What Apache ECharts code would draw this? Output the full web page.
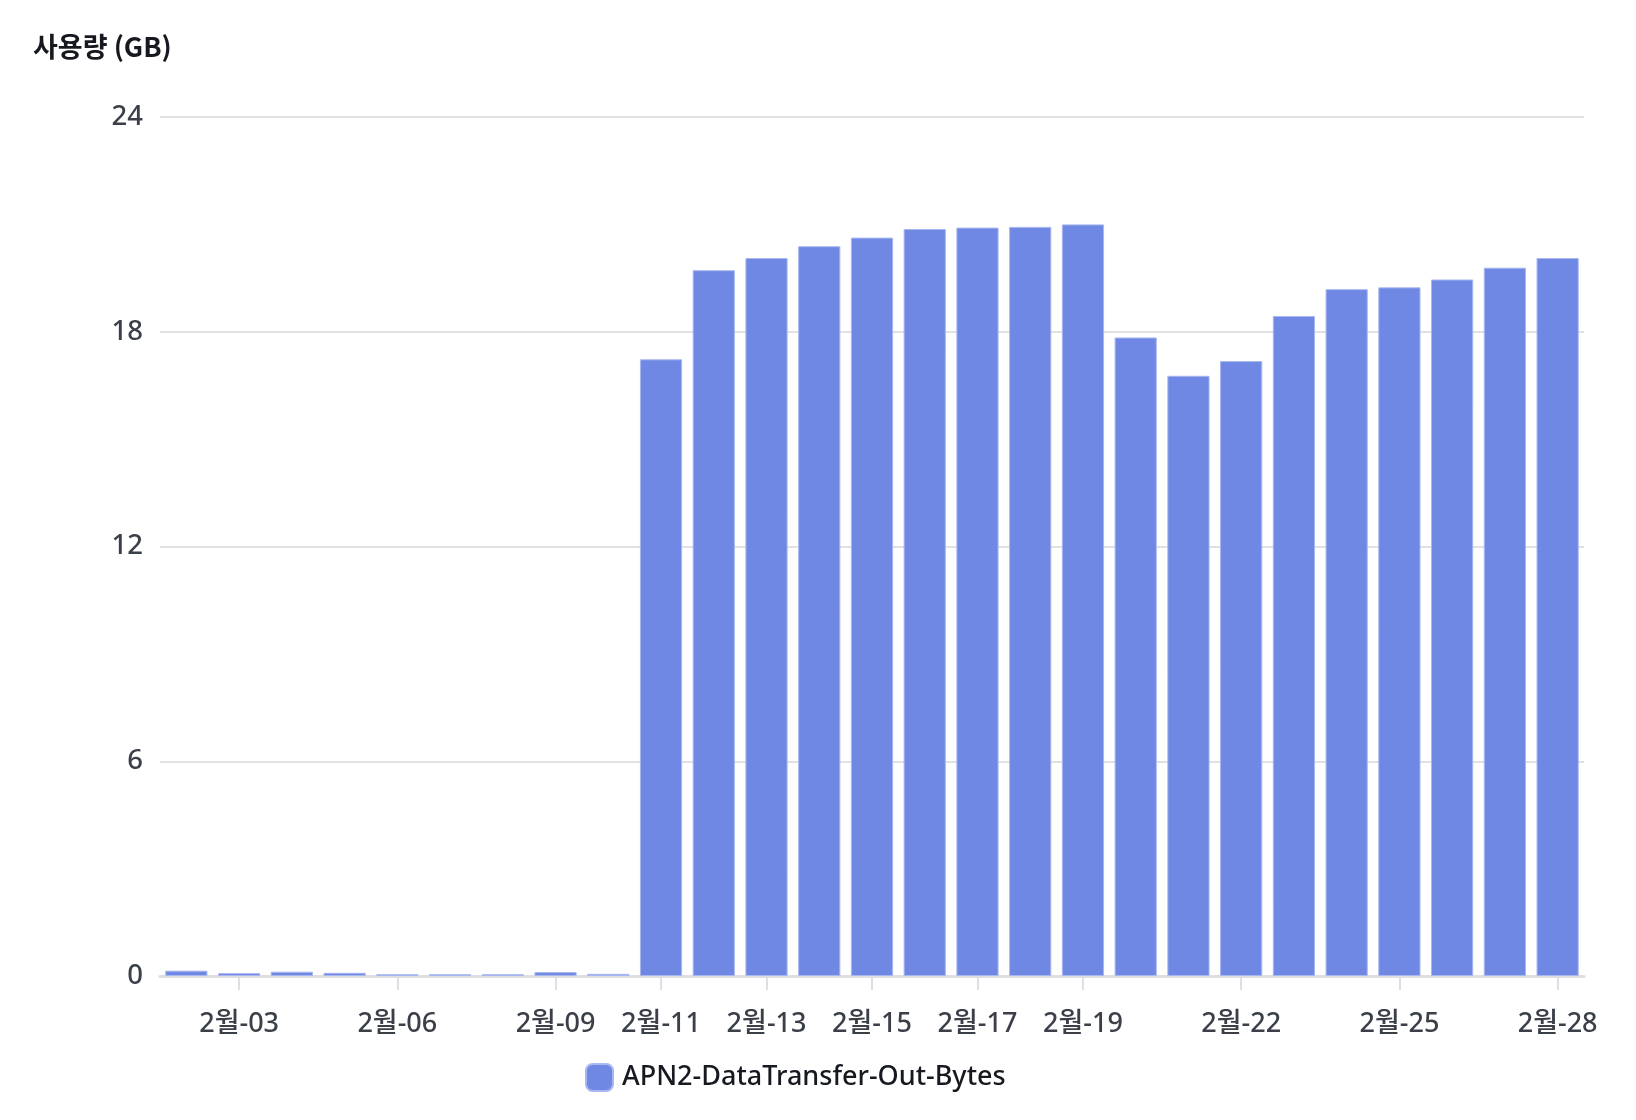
<!DOCTYPE html>
<html>
<head>
<meta charset="utf-8">
<script src="https://cdn.jsdelivr.net/npm/echarts@6/dist/echarts.min.js"></script>
<style>
html,body{margin:0;padding:0;background:#fff;}
#chart{width:1636px;height:1120px;}
</style>
</head>
<body>
<div id="chart"></div>
<script>
const categories = ['2월-02','2월-03','2월-04','2월-05','2월-06','2월-07','2월-08','2월-09','2월-10','2월-11','2월-12','2월-13','2월-14','2월-15','2월-16','2월-17','2월-18','2월-19','2월-20','2월-21','2월-22','2월-23','2월-24','2월-25','2월-26','2월-27','2월-28'];
const shownLabels = ['2월-03','2월-06','2월-09','2월-11','2월-13','2월-15','2월-17','2월-19','2월-22','2월-25','2월-28'];
const seriesName = 'APN2-DataTransfer-Out-Bytes';
const usageGB = [0.15,0.08,0.12,0.09,0.05,0.05,0.05,0.11,0.06,17.23,19.72,20.06,20.39,20.63,20.87,20.91,20.93,21.0,17.84,16.77,17.18,18.44,19.19,19.24,19.46,19.79,20.06];
const yTicks = [0,6,12,18,24];

const FONT = '"Noto Sans", "Noto Sans CJK KR", sans-serif';
const showFn = (i, v) => shownLabels.indexOf(categories[i]) !== -1;

const chart = echarts.init(document.getElementById('chart'), null, {renderer:'canvas'});
chart.setOption({
  animation:false,
  backgroundColor:'#ffffff',
  textStyle:{fontFamily:FONT},
  title:{
    text:'사용량 (GB)',
    left:28, top:28,
    textStyle:{fontFamily:'"Noto Sans CJK KR", "Noto Sans", sans-serif', fontSize:27, fontWeight:'bold', color:'#16191f'}
  },
  legend:{
    data:[seriesName],
    left:585, top:1063,
    padding:0,
    itemWidth:27, itemHeight:27,
    icon:'roundRect',
    textStyle:{fontFamily:FONT, fontSize:27, fontWeight:500, color:'#16191f', padding:[0,0,0,4]}
  },
  grid:{left:160, right:52, top:117, bottom:144, containLabel:false},
  xAxis:{
    type:'category',
    data:categories,
    axisLine:{show:true, lineStyle:{color:'#dedee3', width:3}},
    axisTick:{show:true, alignWithLabel:true, interval:showFn, length:14, lineStyle:{color:'#dedee3', width:2}},
    axisLabel:{interval:showFn, margin:35, fontFamily:FONT, fontSize:27, fontWeight:500, color:'#3a3f48'},
    splitLine:{show:false}
  },
  yAxis:{
    type:'value',
    min:yTicks[0], max:yTicks[yTicks.length-1], interval:6,
    axisLine:{show:false},
    axisTick:{show:false},
    axisLabel:{margin:17, fontFamily:FONT, fontSize:27.5, fontWeight:500, color:'#3a3f48'},
    splitLine:{lineStyle:{color:'#e1e1e4', width:2}}
  },
  series:[{
    name:seriesName,
    type:'bar',
    data:usageGB,
    barCategoryGap:'20%',
    itemStyle:{color:'#6e88e3', borderColor:'#a8b7ef', borderWidth:1},
    z:1
  }]
});
</script>
</body>
</html>
